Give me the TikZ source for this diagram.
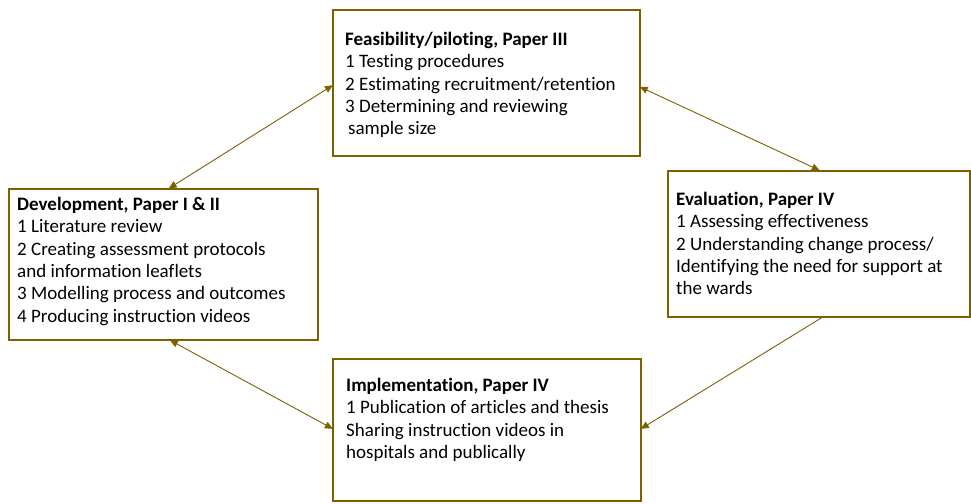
\documentclass[tikz,border=0pt]{standalone}
\usepackage{fontspec}
\setmainfont[Ligatures=NoCommon]{Carlito}
\usetikzlibrary{arrows.meta, positioning, calc}
\definecolor{boxgold}{HTML}{7F6000}

\begin{document}
\begin{tikzpicture}[x=1pt, y=-1pt,
    >={Triangle[length=8pt,width=7pt]},
    box/.style args = {#1/#2}{
                    draw=boxgold,% frame color
                    line width=1.6pt,
                    minimum width=#1, minimum height=#2,
                    inner sep=0pt, anchor=north west},
    txt/.style = {align=left, inner sep=0pt, anchor=north west,
                    font=\fontsize{19}{22.3}\selectfont},
    line/.style = {draw=boxgold, line width=0.9pt, shorten >=-1pt, shorten <=-1pt}]
%---
\useasboundingbox (0,0) rectangle (971,503);
% boxes
\node (fea) [box=307pt/146pt] at (332,9)   {};
\node (dev) [box=309pt/151pt] at (8,188)   {};
\node (eva) [box=302pt/146pt] at (667,170) {};
\node (imp) [box=308pt/142pt] at (332,358) {};
% texts
\node (fea-t) [txt, below right=23pt and 13pt of fea.north west]
    {\textbf{Feasibility/piloting, Paper III}\\
     1 Testing procedures\\
     2 Estimating recruitment/retention\\
     3 Determining and reviewing\\
     \hspace*{3pt}sample size};
\node (dev-t) [txt, below right=9pt and 9pt of dev.north west]
    {\textbf{Development, Paper I \& II}\\
     1 Literature review\\
     2 Creating assessment protocols\\
     and information leaflets\\
     3 Modelling process and outcomes\\
     4 Producing instruction videos};
\node (eva-t) [txt, below right=22pt and 9pt of eva.north west]
    {\textbf{Evaluation, Paper IV}\\
     1 Assessing effectiveness\\
     2 Understanding change process/\\
     Identifying the need for support at\\
     the wards};
\node (imp-t) [txt, below right=20pt and 14pt of imp.north west]
    {\textbf{Implementation, Paper IV}\\
     1 Publication of articles and thesis\\
     Sharing instruction videos in\\
     hospitals and publically};
% lines
\draw[line, <->] ($(dev.north west)!0.52!(dev.north east)$)
                    -- ($(fea.north west)!0.52!(fea.south west)$);
\draw[line, <->] ($(fea.north east)!0.53!(fea.south east)$)
                    -- ($(eva.north west)!0.50!(eva.north east)$);
\draw[line, <->] ($(dev.south west)!0.524!(dev.south east)$)
                    -- ($(imp.north west)!0.49!(imp.south west)$);
\draw[line, ->]  ($(eva.south west)!0.51!(eva.south east)$)
                    -- ($(imp.north east)!0.49!(imp.south east)$);
\end{tikzpicture}
\end{document}
